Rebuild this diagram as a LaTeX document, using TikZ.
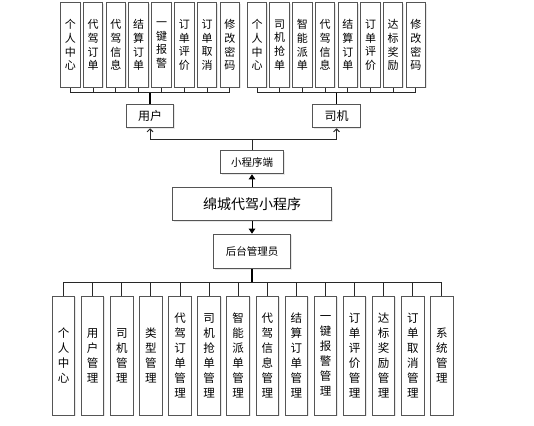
\documentclass[tikz,border=0pt]{standalone}
\usepackage{fontspec}
\setmainfont{Noto Sans CJK SC}
\usetikzlibrary{arrows.meta, positioning, shadows}
\definecolor{boxgray}{RGB}{85, 85, 85}
\definecolor{linegray}{RGB}{40, 40, 40}
\setlength{\lineskiplimit}{-20pt}

\begin{document}
\begin{tikzpicture}[
  x=1pt, y=-1pt,
  node distance=12.5pt,
  box/.style={rectangle, draw=boxgray, fill=white, line width=1pt, inner sep=0pt,
              align=center, drop shadow={opacity=0.18, shadow xshift=1.2pt, shadow yshift=-1.2pt}},
  main/.style={box, minimum width=159pt, minimum height=33.4pt, font=\fontsize{14}{16}\selectfont},
  mid/.style={box, minimum width=63.3pt, minimum height=23.3pt, font=\fontsize{10.5}{12}\selectfont},
  admin/.style={box, minimum width=76.7pt, minimum height=34.4pt, font=\fontsize{10.5}{12}\selectfont},
  role/.style={box, minimum width=47.5pt, minimum height=23.5pt, font=\fontsize{12}{14}\selectfont},
  tbox/.style={box, minimum width=19.5pt, minimum height=84.5pt, font=\fontsize{11}{13.8}\selectfont},
  mbox/.style={box, minimum width=22.5pt, minimum height=119pt, font=\fontsize{11.5}{15}\selectfont},
  bus/.style={draw=linegray, line width=0.9pt},
  trunk/.style={draw=black, line width=1.8pt},
  open/.style={draw=linegray, line width=0.9pt, -{Straight Barb[length=3pt, width=6pt]}},
  tri/.style={draw=black, line width=1pt, -{Triangle[length=5pt, width=6.5pt]}}
]
  \useasboundingbox (0,0) rectangle (534,425);

  % centre column
  \node[main] (app) at (252,204) {绵城代驾小程序};
  \node[mid, above=of app] (client) {小程序端};
  \node[admin, below=of app] (admin) {后台管理员};
  \node[role] (user) at (150,116) {用户};
  \node[role] (driver) at (336.5,116) {司机};

  \draw[tri] (app) -- (client);
  \draw[tri] (app) -- (admin);
  \draw[open] (client.north) -- ++(0,-11) -| (user.south);
  \draw[open] (client.north) -- ++(0,-11) -| (driver.south);

  % user functions
  \foreach \t [count=\i] in {个\\人\\中\\心, 代\\驾\\订\\单, 代\\驾\\信\\息, 结\\算\\订\\单,
                             一\\键\\报\\警, 订\\单\\评\\价, 订\\单\\取\\消, 修\\改\\密\\码}
    \node[tbox] (u\i) at ({70.3+22.8*(\i-1)},45) {\t};
  \foreach \i in {1,...,8}
    \draw[bus] (user.north) ++(0,-11) -| (u\i.south);
  \draw[trunk] (user.north) -- ++(0,-11);

  % driver functions
  \foreach \t [count=\i] in {个\\人\\中\\心, 司\\机\\抢\\单, 智\\能\\派\\单, 代\\驾\\信\\息,
                             结\\算\\订\\单, 订\\单\\评\\价, 达\\标\\奖\\励, 修\\改\\密\\码}
    \node[tbox] (d\i) at ({257+22.7*(\i-1)},45) {\t};
  \foreach \i in {1,...,8}
    \draw[bus] (driver.north) ++(0,-11) -| (d\i.south);
  \draw[trunk] (driver.north) -- ++(0,-11);

  % admin functions
  \foreach \t [count=\i] in {个\\人\\中\\心, 用\\户\\管\\理, 司\\机\\管\\理, 类\\型\\管\\理,
                             代\\驾\\订\\单\\管\\理, 司\\机\\抢\\单\\管\\理, 智\\能\\派\\单\\管\\理,
                             代\\驾\\信\\息\\管\\理, 结\\算\\订\\单\\管\\理, 一\\键\\报\\警\\管\\理,
                             订\\单\\评\\价\\管\\理, 达\\标\\奖\\励\\管\\理, 订\\单\\取\\消\\管\\理,
                             系\\统\\管\\理}
    \node[mbox] (m\i) at ({63.6+29.1*(\i-1)},355.5) {\t};
  \foreach \i in {1,...,14}
    \draw[bus] (admin.south) ++(0,13) -| (m\i.north);
  \draw[trunk] (admin.south) -- ++(0,13);
\end{tikzpicture}
\end{document}
